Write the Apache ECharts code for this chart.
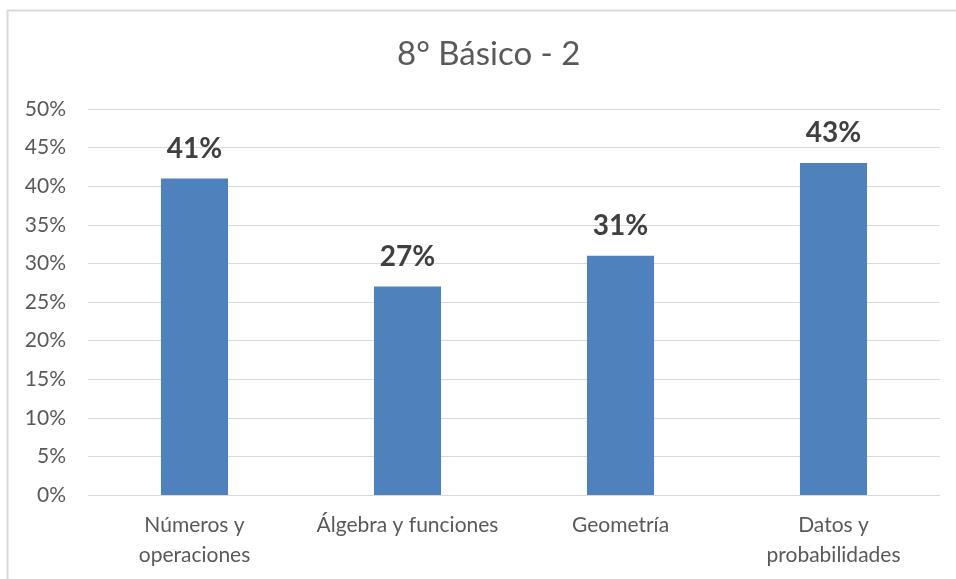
<!DOCTYPE html>
<html>
<head>
<meta charset="utf-8">
<script src="https://cdn.jsdelivr.net/npm/echarts@6/dist/echarts.min.js"></script>
<style>
  html, body { margin: 0; padding: 0; background: #ffffff; }
  #chart { width: 956px; height: 579px; }
</style>
</head>
<body>
<div id="chart"></div>
<script>
// Chart data
const titleText = '8° Básico - 2';
const categories = ['Números y\noperaciones', 'Álgebra y funciones', 'Geometría', 'Datos y\nprobabilidades'];
const values = [41, 27, 31, 43];
const yMin = 0;
const yMax = 50;
const yStep = 5;

const FONT = 'Lato, "Open Sans", sans-serif';

const chart = echarts.init(document.getElementById('chart'), null, { renderer: 'canvas' });

chart.setOption({
  backgroundColor: '#ffffff',
  animation: false,
  graphic: [{
    type: 'rect',
    shape: { x: 7.5, y: 10.5, width: 1000, height: 700 },
    style: { fill: 'none', stroke: '#d9d9d9', lineWidth: 2 },
    silent: true
  }],
  title: {
    text: titleText,
    left: 392,
    top: 33,
    textStyle: { fontFamily: FONT, fontSize: 33, fontWeight: 'normal', color: '#595959' }
  },
  grid: { left: 88, right: 16, top: 109, bottom: 84, containLabel: false },
  xAxis: {
    type: 'category',
    data: categories,
    axisLine: { show: true, lineStyle: { color: '#d9d9d9', width: 1 } },
    axisTick: { show: false },
    axisLabel: {
      fontFamily: FONT, fontSize: 21, color: '#595959',
      margin: 15, lineHeight: 30, interval: 0
    }
  },
  yAxis: {
    type: 'value',
    min: yMin, max: yMax, interval: yStep,
    axisLine: { show: false },
    axisTick: { show: false },
    splitLine: { lineStyle: { color: '#d9d9d9', width: 1 } },
    axisLabel: {
      fontFamily: FONT, fontSize: 21, color: '#595959', margin: 22,
      formatter: v => v + '%'
    }
  },
  series: [{
    type: 'bar',
    data: values,
    barWidth: '31.5%',
    itemStyle: { color: '#4f81bd' },
    label: {
      show: true,
      position: 'top',
      distance: 16,
      fontFamily: FONT, fontSize: 28, fontWeight: 'bold', color: '#404040',
      formatter: p => p.value + '%'
    }
  }]
});
</script>
</body>
</html>
